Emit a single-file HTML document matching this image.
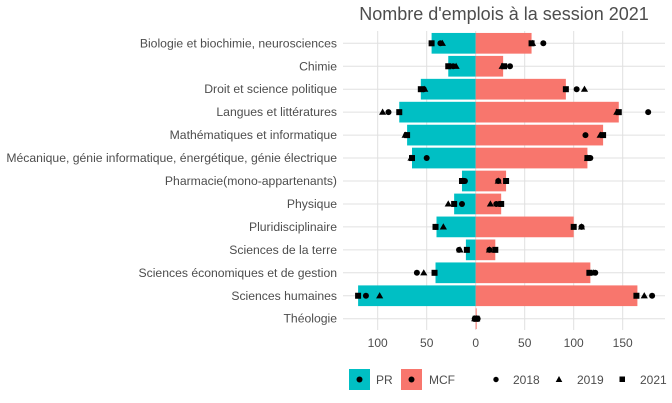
<!DOCTYPE html>
<html><head><meta charset="utf-8"><style>
body{margin:0;background:#fff;}
svg{display:block;font-family:"Liberation Sans",sans-serif;}
</style></head><body>
<svg id="chart" width="672" height="403"></svg>
<script>
const categories=["Biologie et biochimie, neurosciences","Chimie","Droit et science politique","Langues et littératures","Mathématiques et informatique","Mécanique, génie informatique, énergétique, génie électrique","Pharmacie(mono-appartenants)","Physique","Pluridisciplinaire","Sciences de la terre","Sciences économiques et de gestion","Sciences humaines","Théologie"];
const pr2021=[45,28,56,78,70,65,14,22,40,10,41,120,0];
const mcf2021=[57,28,92,146,130,114,31,26,100,20,117,165,1];
const pr2018=[36,23,53,89,71,50,11,14,41,17,60,112,1];
const pr2019=[34,20,52,95,72,66,13,28,33,16,53,98,1];
const pr2021pts=[45,28,56,78,70,65,14,22,41,9,42,120,0];
const mcf2018=[69,35,103,176,112,117,23,21,108,14,122,180,2];
const mcf2019=[58,27,111,144,127,114,23,15,108,14,120,172,1];
const mcf2021pts=[57,29,92,146,130,114,31,26,100,20,116,164,1];
const ticks=[-100,-50,0,50,100,150];
const tickLabels=["100","50","0","50","100","150"];

const NS="http://www.w3.org/2000/svg";
const svg=document.getElementById('chart');
const x0=475.7, k=0.98;
const X=v=>x0+v*k;
const Y=i=>43.3+i*22.95;
const bh=20.7;
const panelL=343, panelR=665, panelT=31, panelB=330;
function mk(t,a,p){const e=document.createElementNS(NS,t);for(const n in a)e.setAttribute(n,a[n]);(p||svg).appendChild(e);return e;}

const title=mk('text',{x:504,y:20,'text-anchor':'middle','font-size':18,fill:'#4d4d4d'});
title.textContent="Nombre d'emplois à la session 2021";



const grid=mk('g',{});


ticks.forEach(t=>{mk('line',{x1:X(t),x2:X(t),y1:panelT,y2:panelB,stroke:'#e0e0e0','stroke-width':1},grid);});
categories.forEach((c,i)=>{mk('line',{x1:panelL,x2:panelR,y1:Y(i),y2:Y(i),stroke:'#e0e0e0','stroke-width':1},grid);});

categories.forEach((c,i)=>{
  const b1=mk('rect',{x:X(-pr2021[i]),y:Y(i)-bh/2,width:pr2021[i]*k,height:bh,fill:'#00BFC4'});
  
  
  const b2=mk('rect',{x:X(0),y:Y(i)-bh/2,width:mcf2021[i]*k,height:bh,fill:'#F8766D'});
  
  
  const l=mk('text',{x:337,y:Y(i)+4,'text-anchor':'end','font-size':12.2,fill:'#4d4d4d'});
  l.textContent=c;
  
  
});
function circle(x,y){const e=mk('circle',{cx:x,cy:y,r:3,fill:'#000'});}
function tri(x,y){const e=mk('polygon',{points:`${x},${y-3.6} ${x-3.6},${y+2.6} ${x+3.6},${y+2.6}`,fill:'#000'});}
function sq(x,y){const e=mk('rect',{x:x-3,y:y-3,width:6,height:6,fill:'#000'});}
categories.forEach((c,i)=>{
  circle(X(-pr2018[i]),Y(i)); tri(X(-pr2019[i]),Y(i)); sq(X(-pr2021pts[i]),Y(i));
  circle(X(mcf2018[i]),Y(i)); tri(X(mcf2019[i]),Y(i)); sq(X(mcf2021pts[i]),Y(i));
});
ticks.forEach((t,j)=>{
  const e=mk('text',{x:X(t),y:347,'text-anchor':'middle','font-size':12,fill:'#4d4d4d'});
  e.textContent=tickLabels[j];
  
  
});
// legend
const lg=mk('g',{});


mk('rect',{x:349,y:369,width:21,height:21,fill:'#00BFC4'},lg);
mk('circle',{cx:359.5,cy:379.5,r:3,fill:'#000'},lg);
let t1=mk('text',{x:376,y:384,'font-size':12,fill:'#4d4d4d'},lg);t1.textContent='PR';
mk('rect',{x:401,y:369,width:21,height:21,fill:'#F8766D'},lg);
mk('circle',{cx:411.5,cy:379.5,r:3,fill:'#000'},lg);
let t2=mk('text',{x:429,y:384,'font-size':12,fill:'#4d4d4d'},lg);t2.textContent='MCF';
mk('circle',{cx:496,cy:379.5,r:2.7,fill:'#000'},lg);
let t3=mk('text',{x:513,y:384,'font-size':12,fill:'#4d4d4d'},lg);t3.textContent='2018';
mk('polygon',{points:'559,376 555.7,382 562.3,382',fill:'#000'},lg);
let t4=mk('text',{x:577,y:384,'font-size':12,fill:'#4d4d4d'},lg);t4.textContent='2019';
mk('rect',{x:619.5,y:376.5,width:5.5,height:5.5,fill:'#000'},lg);
let t5=mk('text',{x:640,y:384,'font-size':12,fill:'#4d4d4d'},lg);t5.textContent='2021';
</script>
</body></html>
